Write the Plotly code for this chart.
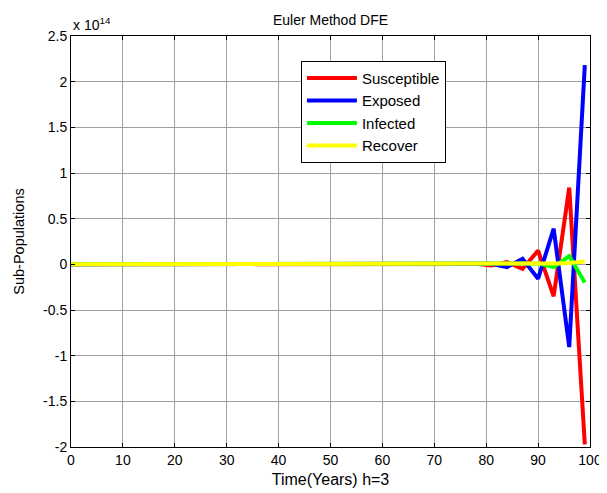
import plotly.graph_objects as go

# Time points (h = 3)
time = [0, 3, 6, 9, 12, 15, 18, 21, 24, 27, 30, 33, 36, 39, 42, 45, 48, 51,
        54, 57, 60, 63, 66, 69, 72, 75, 78, 81, 84, 87, 90, 93, 96, 99]

# Values in units of 1e14
susceptible = [0.0, 0.0, 0.0, 0.0, 0.0, 0.0, 0.0, 0.0, 0.0, 0.0, 0.0, 0.0,
               0.0, 0.0, 0.0, 0.0, 0.0, 0.0, 0.0, 0.0, 0.0, 0.0, 0.0, 0.0,
               0.0, -0.002, 0.005, -0.012, 0.025, -0.05, 0.15, -0.35, 0.84, -1.97]
exposed = [0.0, 0.0, 0.0, 0.0, 0.0, 0.0, 0.0, 0.0, 0.0, 0.0, 0.0, 0.0,
           0.0, 0.0, 0.0, 0.0, 0.0, 0.0, 0.0, 0.0, 0.0, 0.0, 0.0, 0.0,
           0.0, 0.001, -0.002, 0.006, -0.03, 0.06, -0.157, 0.39, -0.906, 2.18]
infected = [0.0, 0.0, 0.0, 0.0, 0.0, 0.0, 0.0, 0.0, 0.0, 0.0, 0.0, 0.0,
            0.0, 0.0, 0.0, 0.0, 0.0, 0.0, 0.0, 0.0, 0.0, 0.0, 0.0, 0.0,
            0.0, 0.0, 0.0, 0.0, 0.002, 0.005, 0.01, -0.03, 0.09, -0.2]
recover = [0.0, 0.0, 0.0, 0.0, 0.0, 0.0, 0.0, 0.0, 0.0, 0.0, 0.0, 0.0,
           0.0, 0.0, 0.0, 0.0, 0.0, 0.0, 0.0, 0.0, 0.0, 0.0, 0.0, 0.0,
           0.0, 0.0, 0.0, 0.0, 0.0, 0.0, 0.005, 0.01, 0.015, 0.03]

y_ticks = [2.5, 2, 1.5, 1, 0.5, 0, -0.5, -1, -1.5, -2]
y_labels = ["2.5", "2", "1.5", "1", "0.5", "0", "-0.5", "-1", "-1.5", "-2"]
x_ticks = [0, 10, 20, 30, 40, 50, 60, 70, 80, 90, 100]

series = [("Susceptible", susceptible, "#ff0000"),
          ("Exposed", exposed, "#0000ff"),
          ("Infected", infected, "#00ff00"),
          ("Recover", recover, "#ffff00")]

fig = go.Figure()
for name, vals, col in series:
    fig.add_trace(go.Scatter(x=time, y=vals, mode="lines", name=name,
                             line=dict(color=col, width=4)))

font = "Arial, Liberation Sans, sans-serif"
fig.update_layout(
    width=599, height=485,
    margin=dict(l=63, r=17, t=28, b=46, autoexpand=False),
    paper_bgcolor="white", plot_bgcolor="white",
    font=dict(family=font, size=14, color="black"),
    title=dict(text="Euler Method DFE", x=0.5, xref="paper", xanchor="center",
               y=1, yref="paper", yanchor="bottom", pad=dict(b=11),
               font=dict(size=14), automargin=False),
    xaxis=dict(range=[0, 100], tickvals=x_ticks, showgrid=True,
               gridcolor="#a0a0a0", gridwidth=1, zeroline=False,
               showline=True, linecolor="black", linewidth=1, mirror="ticks",
               ticks="inside", ticklen=4, tickcolor="black", automargin=False,
               title=dict(text="Time(Years) h=3", font=dict(size=16), standoff=7)),
    yaxis=dict(range=[-2, 2.5], tickvals=y_ticks, ticktext=y_labels,
               showgrid=True, gridcolor="#a0a0a0", gridwidth=1, zeroline=False,
               showline=True, linecolor="black", linewidth=1, mirror="ticks",
               ticks="inside", ticklen=4, tickcolor="black", automargin=False,
               title=dict(text="Sub-Populations", font=dict(size=14.5), standoff=15)),
    legend=dict(x=0.443, y=0.94, xanchor="left", yanchor="top",
                bgcolor="white", bordercolor="black", borderwidth=1,
                font=dict(size=15), itemwidth=50, tracegroupgap=0),
    showlegend=True,
)
fig.add_annotation(text="x 10<sup>14</sup>", xref="paper", yref="paper",
                   x=0, y=1, xanchor="left", yanchor="bottom", showarrow=False,
                   font=dict(size=14), yshift=1)

fig.write_html("out.html")
